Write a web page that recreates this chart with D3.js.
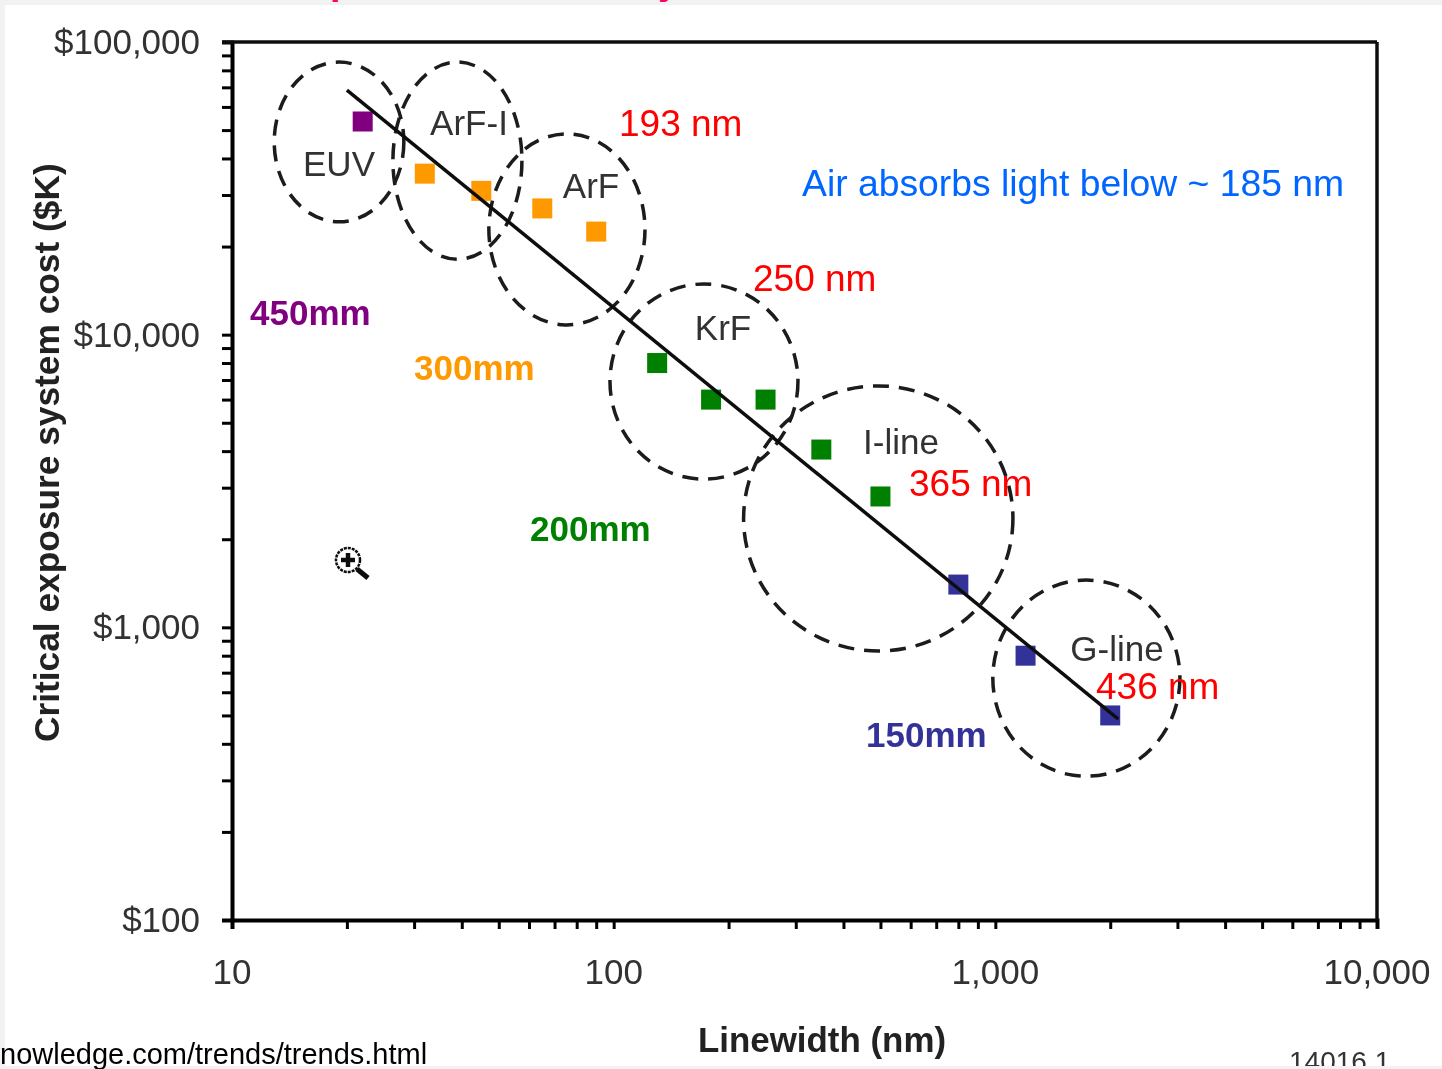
<!DOCTYPE html>
<html>
<head>
<meta charset="utf-8">
<script src="https://cdn.jsdelivr.net/npm/d3@7"></script>
<style>
  html, body { margin: 0; padding: 0; background: #f2f2f2; overflow: hidden; }
  svg { display: block; }
  text { font-family: "Liberation Sans", Arial, sans-serif; }
</style>
</head>
<body>
<div class="chart"></div>
<script>
// Values (linewidth in nm, system cost in $K)
var euvX = [22];
var euvY = [53500];
var arfX = [32, 45, 65, 90];
var arfY = [35500, 31000, 27000, 22500];
var krfX = [130, 180, 250, 350, 500];
var krfY = [8000, 6000, 6000, 4050, 2800];
var glineX = [800, 1200, 2000];
var glineY = [1400, 800, 500];

var trendX = [20, 2100];
var trendY = [68500, 486];

// Dashed groups, as extents in data units
var groupNames = ["EUV", "ArF-I", "ArF", "KrF", "I-line", "G-line"];
var groupXMin = [12.9, 26.4, 47.1, 97.8, 219, 985];
var groupXMax = [28.2, 57.5, 120.8, 304, 1112, 3045];
var groupYMin = [24300, 18100, 10800, 3210, 830, 310];
var groupYMax = [85400, 85400, 48500, 14900, 6680, 1450];

var xMajor = [10, 100, 1000, 10000];
var xMajorLabels = ["10", "100", "1,000", "10,000"];
var yMajor = [100, 1000, 10000, 100000];
var yMajorLabels = ["$100", "$1,000", "$10,000", "$100,000"];

var waveLabels = ["193 nm", "250 nm", "365 nm", "436 nm"];
var waferLabels = ["450mm", "300mm", "200mm", "150mm"];

var svgWidth = 1442;
var svgHeight = 1069;

var margin = { top: 42, right: 65, bottom: 149, left: 232 };
var width = svgWidth - margin.left - margin.right;
var height = svgHeight - margin.top - margin.bottom;

var svg = d3.select(".chart")
  .append("svg")
  .attr("width", svgWidth)
  .attr("height", svgHeight);

// Source is an upscaled bitmap, so everything is slightly soft
var soft = svg.append("defs").append("filter")
  .attr("id", "soft")
  .attr("x", 0).attr("y", 0)
  .attr("width", 1).attr("height", 1)
  .attr("filterUnits", "objectBoundingBox");
soft.append("feGaussianBlur").attr("stdDeviation", 0.55);

// White slide area on the grey page
svg.append("rect")
  .attr("x", 5).attr("y", 5)
  .attr("width", svgWidth - 5).attr("height", 1061)
  .attr("fill", "white");

// Descenders of the cut-off slide title
var titleBits = [["p", 330], ["y", 658]];
svg.selectAll(".titleBit")
  .data(titleBits)
  .enter()
  .append("text")
  .attr("class", "titleBit")
  .attr("x", function (d) { return d[1]; })
  .attr("y", -6)
  .attr("fill", "#ff0066")
  .attr("font-size", 38)
  .attr("font-weight", "bold")
  .text(function (d) { return d[0]; });

var chartGroup = svg.append("g")
  .attr("filter", "url(#soft)")
  .append("g")
  .attr("transform", `translate(${margin.left}, ${margin.top})`);

var xScale = d3.scaleLog().domain([10, 10000]).range([0, width]);
var yScale = d3.scaleLog().domain([100, 100000]).range([height, 0]);

// Minor ticks come from the log scale, majors sit on top with labels
var xAxis = d3.axisBottom(xScale)
  .tickValues(xScale.ticks())
  .tickSize(9)
  .tickFormat("");
var yAxis = d3.axisLeft(yScale)
  .tickValues(yScale.ticks())
  .tickSize(10)
  .tickFormat("");

var xAxisGroup = chartGroup.append("g")
  .attr("transform", `translate(0, ${height})`)
  .call(xAxis);
var yAxisGroup = chartGroup.append("g")
  .call(yAxis);

xAxisGroup.select(".domain").attr("stroke-width", 4);
yAxisGroup.select(".domain").attr("stroke-width", 4);
chartGroup.selectAll(".tick line").attr("stroke-width", 3);

// Top and right frame
chartGroup.append("line")
  .attr("x1", -10).attr("x2", width)
  .attr("y1", 0).attr("y2", 0)
  .attr("stroke", "#111").attr("stroke-width", 3.5);
chartGroup.append("line")
  .attr("x1", width).attr("x2", width)
  .attr("y1", 0).attr("y2", height)
  .attr("stroke", "#111").attr("stroke-width", 3.5);

// Tick labels
chartGroup.selectAll(".xLabel")
  .data(xMajor)
  .enter()
  .append("text")
  .attr("class", "xLabel")
  .attr("x", function (d) { return xScale(d); })
  .attr("y", height + 64)
  .attr("text-anchor", "middle")
  .attr("font-size", 35)
  .attr("fill", "#333")
  .text(function (d, i) { return xMajorLabels[i]; });

chartGroup.selectAll(".yLabel")
  .data(yMajor)
  .enter()
  .append("text")
  .attr("class", "yLabel")
  .attr("x", -32)
  .attr("y", function (d) { return yScale(d) + 12; })
  .attr("text-anchor", "end")
  .attr("font-size", 35)
  .attr("fill", "#333")
  .text(function (d, i) { return yMajorLabels[i]; });

// Dashed ellipses
chartGroup.selectAll(".group")
  .data(groupNames)
  .enter()
  .append("ellipse")
  .attr("class", "group")
  .attr("cx", function (d, i) { return (xScale(groupXMin[i]) + xScale(groupXMax[i])) / 2; })
  .attr("cy", function (d, i) { return (yScale(groupYMin[i]) + yScale(groupYMax[i])) / 2; })
  .attr("rx", function (d, i) { return (xScale(groupXMax[i]) - xScale(groupXMin[i])) / 2; })
  .attr("ry", function (d, i) { return (yScale(groupYMin[i]) - yScale(groupYMax[i])) / 2; })
  .attr("fill", "none")
  .attr("stroke", "#1a1a1a")
  .attr("stroke-width", 3.5)
  .attr("stroke-dasharray", "16 10");

// Squares
function drawSquares(xs, ys, color) {
  chartGroup.selectAll(null)
    .data(xs)
    .enter()
    .append("rect")
    .attr("x", function (d) { return xScale(d) - 10; })
    .attr("y", function (d, i) { return yScale(ys[i]) - 10; })
    .attr("width", 20)
    .attr("height", 20)
    .attr("fill", color);
}
drawSquares(euvX, euvY, "#800080");
drawSquares(arfX, arfY, "#ff9900");
drawSquares(krfX, krfY, "#008000");
drawSquares(glineX, glineY, "#333399");

// Trend line
var trendLine = d3.line()
  .x(function (d) { return xScale(d); })
  .y(function (d, i) { return yScale(trendY[i]); });
chartGroup.append("path")
  .attr("d", trendLine(trendX))
  .attr("fill", "none")
  .attr("stroke", "#111")
  .attr("stroke-width", 3.5);

// Labels from here on are in page pixels
var page = svg.append("g").attr("filter", "url(#soft)");

var groupSpots = [[339, 176], [469, 135], [591, 198], [723, 340], [901, 454], [1117, 661]];
page.selectAll(".groupName")
  .data(groupNames)
  .enter()
  .append("text")
  .attr("class", "groupName")
  .attr("x", function (d, i) { return groupSpots[i][0]; })
  .attr("y", function (d, i) { return groupSpots[i][1]; })
  .attr("text-anchor", "middle")
  .attr("font-size", 35)
  .attr("fill", "#333")
  .text(function (d) { return d; });

var waferSpots = [[250, 325], [414, 380], [530, 541], [866, 747]];
var waferColors = ["#800080", "#ff9900", "#008000", "#333399"];
page.selectAll(".wafer")
  .data(waferLabels)
  .enter()
  .append("text")
  .attr("class", "wafer")
  .attr("x", function (d, i) { return waferSpots[i][0]; })
  .attr("y", function (d, i) { return waferSpots[i][1]; })
  .attr("font-size", 35)
  .attr("font-weight", "bold")
  .attr("fill", function (d, i) { return waferColors[i]; })
  .text(function (d) { return d; });

page.append("text")
  .attr("transform", "translate(59, 742) rotate(-90)")
  .attr("font-size", 35.3)
  .attr("font-weight", "bold")
  .attr("fill", "#222")
  .text("Critical exposure system cost ($K)");

page.append("text")
  .attr("x", 698).attr("y", 1052)
  .attr("font-size", 34.9)
  .attr("font-weight", "bold")
  .attr("fill", "#222")
  .text("Linewidth (nm)");

// Magnifier cursor left in the screenshot
var lens = page.append("g").attr("transform", "translate(348, 560)");
lens.append("circle").attr("r", 12).attr("fill", "white").attr("stroke", "#111").attr("stroke-width", 2.5).attr("stroke-dasharray", "3 1");
lens.append("path").attr("d", "M-7,0H7M0,-7V7").attr("stroke", "#111").attr("stroke-width", 4.5);
lens.append("path").attr("d", "M9,9L20,18").attr("stroke", "#111").attr("stroke-width", 5);

// Overlaid slide text is crisp, not part of the bitmap
var waveSpots = [[619, 136], [753, 291], [909, 496], [1096, 699]];
svg.selectAll(".wave")
  .data(waveLabels)
  .enter()
  .append("text")
  .attr("class", "wave")
  .attr("x", function (d, i) { return waveSpots[i][0]; })
  .attr("y", function (d, i) { return waveSpots[i][1]; })
  .attr("font-size", 37)
  .attr("fill", "#ff0000")
  .text(function (d) { return d; });

svg.append("text")
  .attr("x", 802).attr("y", 196)
  .attr("font-size", 37.3)
  .attr("fill", "#0066ff")
  .text("Air absorbs light below ~ 185 nm");

svg.append("text")
  .attr("x", 0).attr("y", 1064)
  .attr("font-size", 29)
  .attr("fill", "#000")
  .text("nowledge.com/trends/trends.html");

// Figure number, clipped by the bottom of the slide
svg.append("clipPath").attr("id", "slideClip")
  .append("rect").attr("x", 0).attr("y", 0).attr("width", svgWidth).attr("height", 1066);
svg.append("text")
  .attr("x", 1289).attr("y", 1071)
  .attr("clip-path", "url(#slideClip)")
  .attr("font-size", 28)
  .attr("fill", "#333")
  .text("14016.1");
</script>
</body>
</html>
